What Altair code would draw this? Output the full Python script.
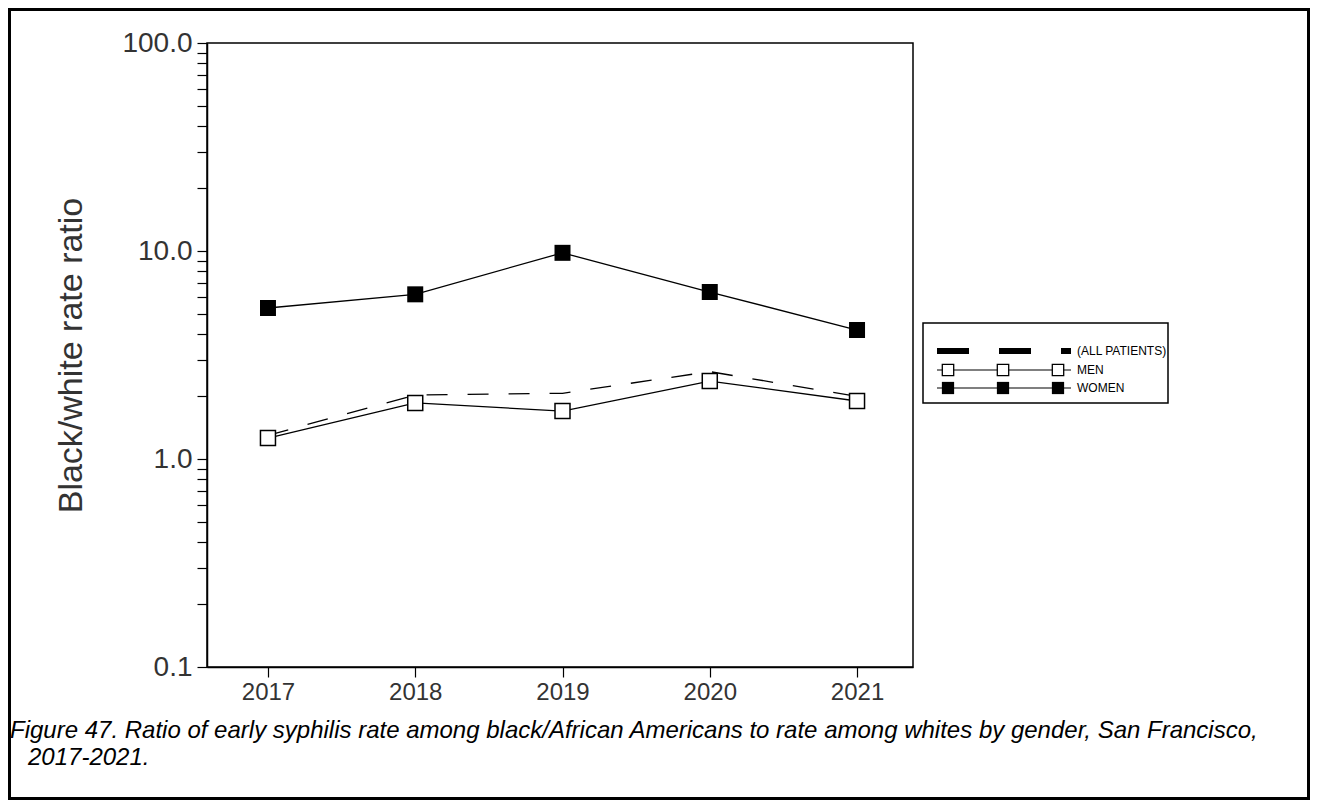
import altair as alt
import pandas as pd

years = [2017, 2018, 2019, 2020, 2021]
all_patients = [1.30, 2.03, 2.07, 2.63, 2.00]
men = [1.26, 1.86, 1.70, 2.37, 1.90]
women = [5.32, 6.19, 9.80, 6.35, 4.17]
y_ticks = [0.1, 0.2, 0.3, 0.4, 0.5, 0.6, 0.7, 0.8, 0.9,
           1, 2, 3, 4, 5, 6, 7, 8, 9,
           10, 20, 30, 40, 50, 60, 70, 80, 90, 100]

df = pd.DataFrame({
    "year": years * 3,
    "ratio": all_patients + men + women,
    "series": ["(ALL PATIENTS)"] * 5 + ["MEN"] * 5 + ["WOMEN"] * 5,
})

FONT = "Liberation Sans"
W, H = 706, 624
PL, PT, PR, PB = 199, 35, 397, 133

xs = alt.Scale(domain=[2016.586, 2021.38], nice=False, zero=False)
ys = alt.Scale(type="log", domain=[0.1, 100], nice=False)

xaxis = alt.Axis(values=years, format="d", title=None, grid=False, tickSize=10,
                 labelFontSize=24, labelFont=FONT, labelColor="#333", labelPadding=3,
                 domainColor="black", tickColor="black", domainWidth=1.5, tickWidth=1.2)
yaxis = alt.Axis(values=y_ticks,
                 labelExpr="abs(log(datum.value)/LN10 - round(log(datum.value)/LN10)) < 0.001 ? format(datum.value, '.1f') : ''",
                 title="Black/white rate ratio", grid=False,
                 tickSize=10, labelFontSize=28, labelFont=FONT, labelColor="#333",
                 labelPadding=5, labelOverlap=False, titleFontSize=34, titleFont=FONT,
                 titleFontWeight="normal", titleColor="#333", titlePadding=33,
                 domainColor="black", tickColor="black", domainWidth=1.5, tickWidth=1.2)

base = alt.Chart(df)
X = alt.X("year:Q", scale=xs, axis=xaxis)
Y = alt.Y("ratio:Q", scale=ys, axis=yaxis)

line_all = base.transform_filter(alt.datum.series == "(ALL PATIENTS)").mark_line(
    color="black", strokeWidth=1.3, strokeDash=[21, 20]).encode(x=X, y=Y)
line_men = base.transform_filter(alt.datum.series == "MEN").mark_line(
    color="black", strokeWidth=1.3).encode(x=X, y=Y)
line_women = base.transform_filter(alt.datum.series == "WOMEN").mark_line(
    color="black", strokeWidth=1.3).encode(x=X, y=Y)
pts_men = base.transform_filter(alt.datum.series == "MEN").mark_point(
    shape="square", filled=True, fill="white", stroke="black", strokeWidth=1.5,
    size=225, opacity=1).encode(x=X, y=Y)
pts_women = base.transform_filter(alt.datum.series == "WOMEN").mark_point(
    shape="square", filled=True, color="black", size=256, opacity=1).encode(x=X, y=Y)

one = alt.InlineData(values=[{"k": 1}])

def ov(**kw):
    return {k: alt.value(v) for k, v in kw.items()}

# outer frame
frame = alt.Chart(one).mark_rect(fill=None, stroke="black", strokeWidth=3).encode(
    **ov(x=-PL + 1.5, x2=W + PR - 1.5, y=-PT + 1.5, y2=H + PB - 1.5))

# legend
LX0, LX1 = 730, 864
rows = [308, 327, 345]
leg_box = alt.Chart(one).mark_rect(fill="white", stroke="black", strokeWidth=1.5).encode(
    **ov(x=716, x2=961, y=280, y2=360))
leg_dash = alt.Chart(one).mark_rule(color="black", strokeWidth=6, strokeDash=[32, 30]).encode(
    **ov(x=LX0, x2=LX1, y=rows[0]))
leg_men_l = alt.Chart(one).mark_rule(color="black", strokeWidth=1.2).encode(
    **ov(x=LX0, x2=LX1, y=rows[1]))
leg_women_l = alt.Chart(one).mark_rule(color="black", strokeWidth=1.2).encode(
    **ov(x=LX0, x2=LX1, y=rows[2]))
leg_layers = [leg_box, leg_dash, leg_men_l, leg_women_l]
for sx in [741, 796, 851]:
    leg_layers.append(alt.Chart(one).mark_point(
        shape="square", filled=True, fill="white", stroke="black", strokeWidth=1.3,
        size=130, opacity=1).encode(**ov(x=sx, y=rows[1])))
    leg_layers.append(alt.Chart(one).mark_point(
        shape="square", filled=True, color="black", size=150, opacity=1).encode(
        **ov(x=sx, y=rows[2])))
for lab, ry in zip(["(ALL PATIENTS)", "MEN", "WOMEN"], rows):
    leg_layers.append(alt.Chart(one).mark_text(
        text=lab, align="left", baseline="middle", font=FONT, fontSize=12,
        color="black").encode(**ov(x=870, y=ry)))

cap1 = alt.Chart(one).mark_text(
    text="Figure 47.  Ratio of early syphilis rate among black/African Americans to rate among whites by gender, San Francisco,",
    align="left", baseline="alphabetic", font=FONT, fontSize=24, fontStyle="italic",
    color="black").encode(**ov(x=-197, y=695))
cap2 = alt.Chart(one).mark_text(
    text="2017-2021.", align="left", baseline="alphabetic", font=FONT, fontSize=24,
    fontStyle="italic", color="black").encode(**ov(x=-179, y=722))

chart = alt.layer(
    frame, line_all, line_men, line_women, pts_men, pts_women, *leg_layers, cap1, cap2
).properties(
    width=W, height=H,
    autosize=alt.AutoSizeParams(type="none"),
    padding={"left": PL, "top": PT, "right": PR, "bottom": PB},
    background="white",
).configure_view(stroke="black", strokeWidth=1.5, clip=False)

chart.save("out.html", embed_options={"renderer": "svg", "actions": False})
